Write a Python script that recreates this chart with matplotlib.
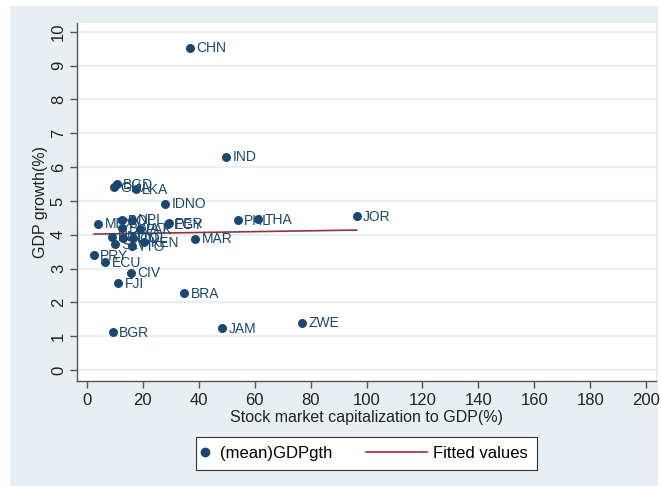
import numpy as np
import matplotlib
matplotlib.use("Agg")
import matplotlib.pyplot as plt
from matplotlib.patches import Rectangle
from matplotlib.lines import Line2D
from matplotlib.legend_handler import HandlerBase

plt.rcParams['font.family'] = ['Liberation Sans', 'DejaVu Sans']

# Country codes, stock market capitalization (% of GDP) and mean GDP growth (%)
countries = ["CHN", "IND", "JOR", "PHL", "THA", "MAR", "BRA", "JAM", "ZWE",
             "BGR", "FJI", "CIV", "ECU", "PRY", "IDNO", "LKA", "BGD", "GHA",
             "MEX", "PER", "EGY", "BOL", "NPL", "BWA", "PAK", "HND", "TUN",
             "COL", "SLV", "TTO", "KEN"]
mktcap = [36.8, 49.9, 96.5, 54.1, 61.4, 38.8, 34.9, 48.5, 77.0,
          9.3, 11.4, 15.9, 6.7, 2.7, 28.1, 17.5, 10.9, 9.8,
          4.2, 29.5, 29.0, 12.6, 16.1, 12.8, 19.1, 9.0, 13.1,
          16.7, 10.2, 16.1, 20.6]
gdpgth = [9.53, 6.31, 4.55, 4.44, 4.46, 3.88, 2.28, 1.24, 1.40,
          1.11, 2.57, 2.88, 3.18, 3.39, 4.92, 5.34, 5.50, 5.40,
          4.33, 4.35, 4.31, 4.44, 4.45, 4.19, 4.17, 3.94, 3.90,
          3.90, 3.72, 3.66, 3.77]

x_ticks = list(range(0, 201, 20))
y_ticks = list(range(0, 11))

navy = "#1a476f"
maroon = "#90353b"
bg = "#e7eff2"
grid = "#e9f0f3"

x = np.array(mktcap)
y = np.array(gdpgth)
slope, intercept = np.polyfit(x, y, 1)
xf = np.array([x.min(), x.max()])
yf = intercept + slope * xf


class DotHandle(HandlerBase):
    """A single dot at the left edge of a short legend handle."""
    def create_artists(self, legend, orig_handle, xdescent, ydescent,
                       width, height, fontsize, trans):
        dot = Line2D([-xdescent], [height / 2 - ydescent],
                     marker="o", linestyle="none", color=navy, markersize=6,
                     transform=trans)
        return [dot]


class LongLineHandle(HandlerBase):
    """A line segment that reaches further left than the handle box."""
    def create_artists(self, legend, orig_handle, xdescent, ydescent,
                       width, height, fontsize, trans):
        yc = height / 2 - ydescent
        seg = Line2D([width - xdescent - 61 * 0.72, width - xdescent], [yc, yc],
                     color=maroon, linewidth=1.2, transform=trans)
        return [seg]


fig = plt.figure(figsize=(6.61, 4.86), dpi=100)
fig.patch.set_facecolor("white")
fig.patches.append(Rectangle((10 / 661, 0), 648 / 661, 480 / 486,
                             transform=fig.transFigure, facecolor=bg,
                             edgecolor="none", zorder=-10))

ax = fig.add_axes([77 / 661, (486 - 380.7) / 486, 579 / 661, 358 / 486])
ax.set_facecolor("white")
ax.set_xlim(-3.4, 203.4)
ax.set_ylim(-0.317, 10.27)

ax.set_yticks(y_ticks)
ax.set_xticks(x_ticks)
ax.yaxis.grid(True, color=grid, linewidth=1.6)
ax.set_axisbelow(True)
for side in ("top", "right"):
    ax.spines[side].set_visible(False)
for side in ("left", "bottom"):
    ax.spines[side].set_color("#555555")
    ax.spines[side].set_linewidth(1.0)
ax.tick_params(axis="both", direction="out", length=5, width=1,
               color="#555555", labelsize=12, labelcolor="#222222")
ax.tick_params(axis="x", pad=4)
ax.tick_params(axis="y", pad=3)
for lbl in ax.get_yticklabels():
    lbl.set_rotation(90)
    lbl.set_va("center")

ax.scatter(x, y, s=42, color=navy, zorder=3, linewidths=0)
for name, xi, yi in zip(countries, x, y):
    ax.annotate(name, (xi, yi), xytext=(4.5, -0.5), textcoords="offset points",
                va="center", ha="left", fontsize=10, color=navy, zorder=4)
ax.plot(xf, yf, color=maroon, linewidth=1.2, zorder=2)

ax.set_xlabel("Stock market capitalization to GDP(%)", fontsize=11.5,
              color="#222222", labelpad=1)
ax.set_ylabel("GDP growth(%)", fontsize=11.5, color="#222222", labelpad=2)

dot_handle = Line2D([], [], marker="o", linestyle="none", color=navy)
line_handle = Line2D([], [], color=maroon, linewidth=1.2)
leg = fig.legend([dot_handle, line_handle], ["(mean)GDPgth", "Fitted values"],
                 ncol=2, loc="center",
                 bbox_to_anchor=(366.5 / 661, 1 - 453.5 / 486),
                 fontsize=12, frameon=True, fancybox=False,
                 edgecolor="#333333", facecolor="white", framealpha=1,
                 handlelength=0.5, columnspacing=5.2, handletextpad=0.35,
                 borderpad=0.55,
                 handler_map={dot_handle: DotHandle(),
                              line_handle: LongLineHandle()})
leg.get_frame().set_linewidth(0.8)

fig.savefig("out.png", dpi=100)
